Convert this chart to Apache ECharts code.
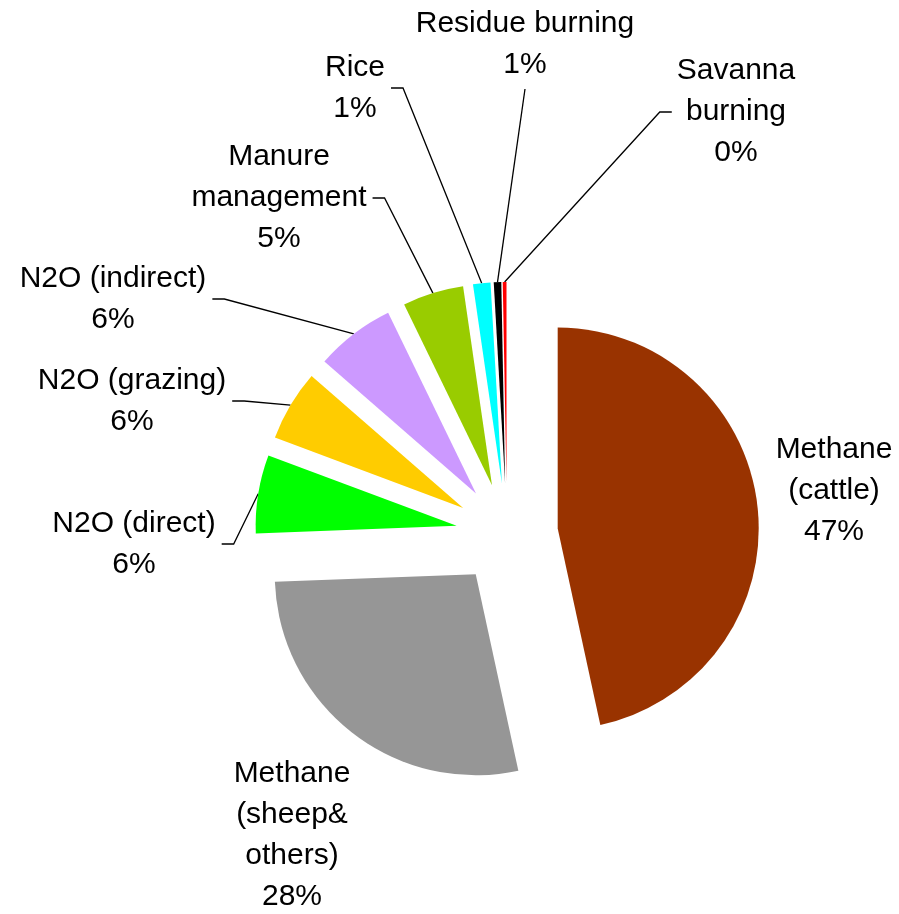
<!DOCTYPE html>
<html>
<head>
<meta charset="utf-8">
<title>Agricultural emissions by source</title>
<script src="https://cdn.jsdelivr.net/npm/echarts@6/dist/echarts.min.js"></script>
<style>
  html, body { margin: 0; padding: 0; background: #ffffff; }
  #chartContainer { width: 899px; height: 914px; }
</style>
</head>
<body>
<div id="chartContainer"></div>
<script>
var SOURCES = [
  "Methane\n(cattle)",
  "Methane\n(sheep&\nothers)",
  "N2O (direct)",
  "N2O (grazing)",
  "N2O (indirect)",
  "Manure\nmanagement",
  "Rice",
  "Residue burning",
  "Savanna\nburning",
];
var SHARES = [46.6, 27.8, 6.3, 5.7, 6.4, 4.9, 1.4, 0.6, 0.3];
var COLORS = ["#993300", "#969696", "#00FF00", "#FFCC00", "#CC99FF", "#99CC00", "#00FFFF", "#000000", "#FF0000"];

// label block centre + side the leader line leaves from
var LABEL_SPOTS = [
  [834, 491, "none"],
  [292, 835, "none"],
  [134, 544, "right"],
  [132, 401, "right"],
  [113, 299, "right"],
  [279, 198, "right"],
  [355, 88, "right"],
  [525, 44, "bottom"],
  [736, 112, "left"],
];

var CHART;
var PIE_CENTER = [507, 534];
var PIE_RADIUS = 201;
var EXPLODE = 51;

function arcPoint(idx) {
  // outer arc middle of the exploded slice = arc middle of the (bigger) label pie
  var lay = CHART.getModel().getSeriesByIndex(1).getData().getItemLayout(idx);
  var mid = (lay.startAngle + lay.endAngle) / 2;
  return [lay.cx + lay.r * Math.cos(mid), lay.cy + lay.r * Math.sin(mid)];
}

function placeLabel(params) {
  var spot = LABEL_SPOTS[params.dataIndex];
  var x = spot[0], y = spot[1], side = spot[2];
  var w = params.labelRect.width, h = params.labelRect.height;
  var out = { x: x, y: y, align: "center", verticalAlign: "middle" };
  if (side == "none") {
    return out;
  }
  var p0 = arcPoint(params.dataIndex);
  if (side == "right") {
    out.labelLinePoints = [p0, [x + w / 2 + 18, y], [x + w / 2 + 6, y]];
  } else if (side == "left") {
    out.labelLinePoints = [p0, [x - w / 2 - 17, y], [x - w / 2 - 5, y]];
  } else {
    out.labelLinePoints = [p0, [x, y + h / 2 + 4], [x, y + h / 2 + 4]];
  }
  return out;
}

window.onload = (_) => {
  CHART = echarts.init(document.getElementById("chartContainer"), null, { renderer: "canvas" });

  var sliceData = [];
  var labelData = [];
  for (let i = 0; i < SHARES.length; i++) {
    sliceData.push({
      name: SOURCES[i],
      value: SHARES[i],
      selected: true,
      itemStyle: { color: COLORS[i] },
    });
    labelData.push({
      name: SOURCES[i],
      value: SHARES[i],
      labelLine: { show: LABEL_SPOTS[i][2] != "none" },
    });
  }

  CHART.setOption({
    animation: false,
    series: [
      {
        // the exploded slices
        type: "pie",
        center: PIE_CENTER,
        radius: PIE_RADIUS,
        startAngle: 90,
        clockwise: true,
        selectedMode: "multiple",
        selectedOffset: EXPLODE,
        itemStyle: { borderWidth: 0 },
        emphasis: { scale: false },
        label: { show: false },
        labelLine: { show: false },
        data: sliceData,
      },
      {
        // invisible twin carrying the labels and leader lines
        type: "pie",
        center: PIE_CENTER,
        radius: PIE_RADIUS + EXPLODE,
        startAngle: 90,
        clockwise: true,
        silent: true,
        avoidLabelOverlap: false,
        itemStyle: { color: "rgba(0,0,0,0)", borderWidth: 0 },
        emphasis: { disabled: true },
        label: {
          show: true,
          position: "outside",
          color: "#000000",
          fontFamily: "Liberation Sans, Arial, sans-serif",
          fontSize: 30,
          lineHeight: 41,
          formatter: (p) => p.name + "\n" + Math.round(p.percent) + "%",
        },
        labelLine: {
          show: true,
          lineStyle: { color: "#000000", width: 1.3 },
        },
        labelLayout: placeLabel,
        data: labelData,
      },
    ],
  });
};
</script>
</body>
</html>
